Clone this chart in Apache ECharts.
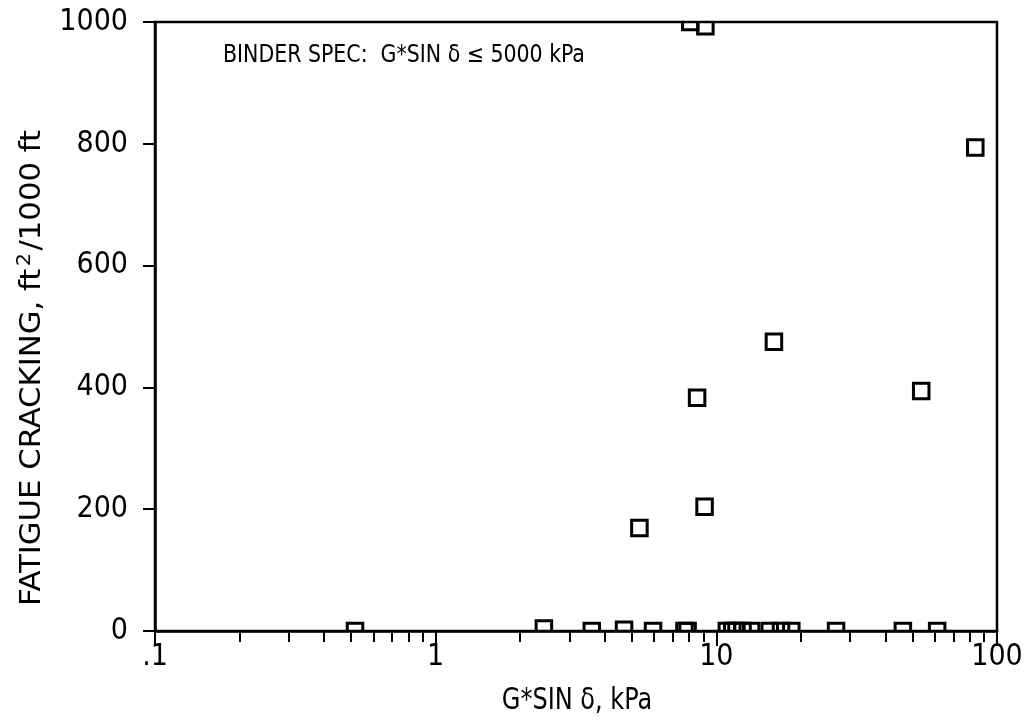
<!DOCTYPE html>
<html>
<head>
<meta charset="utf-8">
<script src="https://cdn.jsdelivr.net/npm/echarts@6/dist/echarts.min.js"></script>
<style>
  html, body { margin: 0; padding: 0; background: #fff; }
  #chart { width: 1026px; height: 723px; }
</style>
</head>
<body>
<div id="chart"></div>
<script>
// Binder stiffness (G*sin δ, kPa) against observed fatigue cracking
const gSinDelta = [
  0.516, 2.43, 3.60, 4.69, 5.95, 7.7, 7.9,
  10.9, 11.4, 11.8, 12.4, 13.3, 15.5, 17.0, 18.5,
  26.7, 46.2, 61.2,
  5.32, 8.54, 9.08, 16.04, 53.7, 83.7, 8.08, 9.14
];
const fatigueCracking = [
  0, 4, 0, 2, 0, 0, 0,
  0, 0, 0, 0, 0, 0, 0, 0,
  0, 0, 0,
  169, 383, 204, 475, 394, 794, 1000, 993
];

const xTickLabels = { 0.1: '.1', 1: '1', 10: '10', 100: '100' };
const yTicks = [0, 200, 400, 600, 800, 1000];
// minor ticks at 2..9 of each decade, in log10 units for the tick-only axis
const minorTickValues = [];
[0.1, 1, 10].forEach(function (decade) {
  for (let k = 2; k <= 9; k++) minorTickValues.push(Math.log10(k * decade));
});

const FONT = '"DejaVu Sans Condensed", "Liberation Sans Narrow", sans-serif';
const points = gSinDelta.map(function (x, i) { return [x, fatigueCracking[i]]; });

const GRID = { left: 155, right: 29, top: 22, bottom: 92 };

const chart = echarts.init(document.getElementById('chart'), null, { renderer: 'canvas' });

chart.setOption({
  backgroundColor: '#fff',
  animation: false,
  grid: {
    left: GRID.left, right: GRID.right, top: GRID.top, bottom: GRID.bottom,
    show: true, borderColor: '#000', borderWidth: 2.5, backgroundColor: 'transparent'
  },
  xAxis: [
    {
      type: 'log', logBase: 10, min: 0.1, max: 100,
      axisLine: { onZero: false, lineStyle: { color: '#000', width: 2.5 } },
      axisTick: { show: true, length: 15, lineStyle: { color: '#000', width: 2 } },
      axisLabel: {
        color: '#000', fontFamily: FONT, fontSize: 30, margin: 11,
        formatter: function (v) { return xTickLabels[v] !== undefined ? xTickLabels[v] : ''; }
      },
      splitLine: { show: false }
    },
    {
      type: 'value', min: -1, max: 2, position: 'bottom',
      axisLine: { show: false, onZero: false },
      axisLabel: { show: false },
      axisTick: { show: true, length: 11, customValues: minorTickValues, lineStyle: { color: '#000', width: 2 } },
      splitLine: { show: false }
    }
  ],
  yAxis: {
    type: 'value', min: 0, max: 1000, interval: 200,
    axisLine: { show: true, onZero: false, lineStyle: { color: '#000', width: 2.5 } },
    axisTick: { show: true, length: 12, lineStyle: { color: '#000', width: 2 } },
    axisLabel: {
      color: '#000', fontFamily: FONT, fontSize: 30, margin: 27,
      formatter: function (v) { return yTicks.indexOf(v) >= 0 ? String(v) : ''; }
    },
    splitLine: { show: false }
  },
  graphic: [
    {
      type: 'text', x: 223, y: 56, scaleX: 0.95,
      style: {
        text: 'BINDER SPEC:  G*SIN δ ≤ 5000 kPa',
        fontFamily: FONT, fontSize: 24, fill: '#000',
        align: 'left', verticalAlign: 'middle'
      }
    },
    {
      type: 'text', x: 577, y: 701, scaleX: 0.89,
      style: {
        text: 'G*SIN δ, kPa',
        fontFamily: FONT, fontSize: 30, fill: '#000',
        align: 'center', verticalAlign: 'middle'
      }
    },
    {
      type: 'text', x: 33, y: 368, rotation: Math.PI / 2, scaleX: 1.22,
      style: {
        text: 'FATIGUE CRACKING, ft{sup|2}/1000 ft',
        fontFamily: FONT, fontSize: 28, fill: '#000',
        align: 'center', verticalAlign: 'middle',
        rich: {
          sup: { fontFamily: FONT, fontSize: 19, fill: '#000', padding: [0, 2, 16, 2] }
        }
      }
    }
  ],
  series: [
    {
      type: 'custom',
      coordinateSystem: 'cartesian2d',
      xAxisIndex: 0, yAxisIndex: 0,
      clip: true,
      encode: { x: 0, y: 1 },
      data: points,
      renderItem: function (params, api) {
        const p = api.coord([api.value(0), api.value(1)]);
        const s = 15.5;
        return {
          type: 'rect',
          shape: { x: p[0] - s / 2, y: p[1] - s / 2, width: s, height: s },
          style: { fill: 'none', stroke: '#000', lineWidth: 3 }
        };
      }
    }
  ]
});
</script>
</body>
</html>
